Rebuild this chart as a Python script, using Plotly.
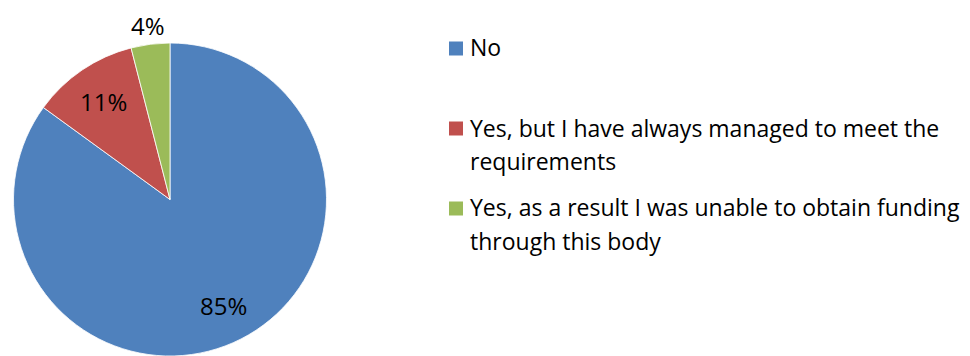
import math
import plotly.graph_objects as go

# Survey answers and their shares (%)
labels = [
    "No",
    "Yes, but I have always managed to meet the requirements",
    "Yes, as a result I was unable to obtain funding through this body",
]
# Wrapped lines used for the legend text
legend_lines = [
    ["No"],
    ["Yes, but I have always managed to meet the", "requirements"],
    ["Yes, as a result I was unable to obtain funding", "through this body"],
]
values = [85, 11, 4]
colors = ["#4F81BD", "#C0504D", "#9BBB59"]

W, H = 970, 356
FONT = "Open Sans"

# Pie placement (pixels)
cx, cy, r = 170.0, 199.5, 156.5
dom_x = [(cx - r) / W, (cx + r) / W]
dom_y = [(H - (cy + r)) / H if (cy + r) < H else 0.0, (H - (cy - r)) / H]

fig = go.Figure(
    go.Pie(
        labels=labels,
        values=values,
        sort=False,
        direction="clockwise",
        rotation=0,
        marker=dict(colors=colors, line=dict(color="white", width=0.8)),
        textinfo="none",
        hoverinfo="label+percent",
        showlegend=False,
        domain=dict(x=dom_x, y=dom_y),
    )
)


def px_to_paper(x, y):
    return x / W, 1 - y / H


annotations = []
shapes = []

# Percentage labels placed along each slice's mid-angle
total = sum(values)
cum = 0.0
for i, v in enumerate(values):
    frac = v / total
    mid = (cum + frac / 2) * 2 * math.pi
    cum += frac
    k = 0.76 if frac > 0.06 else 1.12
    lx = cx + k * r * math.sin(mid)
    ly = cy - k * r * math.cos(mid)
    px, py = px_to_paper(lx, ly)
    annotations.append(
        dict(
            x=px, y=py, xref="paper", yref="paper",
            text=f"{round(v / total * 100)}%",
            showarrow=False, xanchor="center", yanchor="middle",
            font=dict(family=FONT, size=24, color="#000000"),
        )
    )

# Legend: colour squares and wrapped text
leg_x_sq = 449
sq = 14
leg_x_txt = 468
item_top = 48.5
item_step = 80
line_step = 33
for i, lines in enumerate(legend_lines):
    yc = item_top + i * item_step
    shapes.append(
        dict(
            type="rect", xref="paper", yref="paper",
            x0=leg_x_sq / W, x1=(leg_x_sq + sq) / W,
            y0=1 - (yc - sq / 2) / H, y1=1 - (yc + sq / 2) / H,
            fillcolor=colors[i], line=dict(width=0),
        )
    )
    for j, t in enumerate(lines):
        px, py = px_to_paper(leg_x_txt, yc + j * line_step - 1)
        annotations.append(
            dict(
                x=px, y=py, xref="paper", yref="paper",
                text=t, showarrow=False, xanchor="left", yanchor="middle",
                font=dict(family=FONT, size=23, color="#000000"),
            )
        )

fig.update_layout(
    width=W, height=H,
    margin=dict(l=0, r=0, t=0, b=0),
    paper_bgcolor="white", plot_bgcolor="white",
    annotations=annotations, shapes=shapes,
)

fig.write_html("out.html")
